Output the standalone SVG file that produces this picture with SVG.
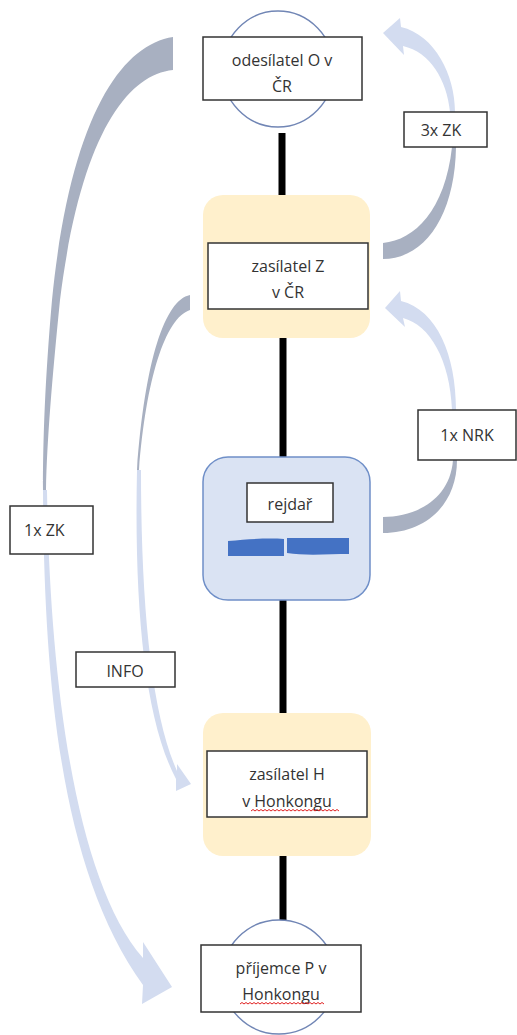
<svg xmlns="http://www.w3.org/2000/svg" width="517" height="1035" viewBox="0 0 517 1035">
<style>
.t{font-family:"Open Sans","Liberation Sans",sans-serif;font-size:16px;fill:#333;text-anchor:middle}
.box{fill:#fff;stroke:#333;stroke-width:1.5}
.dark{fill:#a8b0c1}
.light{fill:#d3dcf0}
.link{stroke:#000;stroke-width:7}
.sq{fill:none;stroke:#e02020;stroke-width:1}
</style>
<rect width="517" height="1035" fill="#fff"/>
<g id="arrows">
  <path class="dark" d="M173,37 C120,45 70,120 52,300 C45,380 43,440 43,490 L46,490 C47,440 52,380 60,300 C80,140 125,75 173,70 Z"/>
  <path class="light" d="M43,490 C44,680 60,870 143,985 L142,1004 L172,987 L143,942 L143,958 C75,880 50,680 47,490 Z"/>
  <path class="dark" d="M383,243 C415,240 445,210 452,147 L456,147 C455,215 425,259 383,259 Z"/>
  <path class="light" d="M450,112 C447,80 430,52 403,46 L404,55 L383,33 L400,18 L401,27 C435,35 455,75 455,112 Z"/>
  <path class="dark" d="M383,517 C415,517 450,500 453,460 L457,460 C457,505 425,533 383,533 Z"/>
  <path class="light" d="M452,410 C450,360 430,325 403,318 L405,327 L385,308 L400,291 L401,301 C437,310 456,355 456,410 Z"/>
  <path class="dark" d="M190,295 C165,300 145,360 137,470 L139,470 C146,380 165,318 190,310 Z"/>
  <path class="light" d="M137,470 C134,610 145,720 176,779 L176,791 L191,784 L177,764 L177,771 C152,715 141,610 141,470 Z"/>
</g>
<g id="connectors">
  <line class="link" x1="282" y1="133" x2="282" y2="196"/>
  <line class="link" x1="283" y1="338" x2="283" y2="457"/>
  <line class="link" x1="283" y1="600" x2="283" y2="713"/>
  <line class="link" x1="283" y1="856" x2="283" y2="921"/>
</g>
<g id="node-O">
  <ellipse cx="278" cy="69" rx="56" ry="58" fill="#fff" stroke="#7186b5" stroke-width="1.4"/>
  <rect class="box" x="203" y="37" width="159" height="63"/>
  <text class="t" x="282" y="66">odesílatel O v</text>
  <text class="t" x="282" y="92">ČR</text>
</g>
<g id="node-Z">
  <rect x="203" y="195" width="167" height="143" rx="20" fill="#fff0cc"/>
  <rect class="box" x="208" y="243" width="160" height="66"/>
  <text class="t" x="288" y="272">zasílatel Z</text>
  <text class="t" x="288" y="298">v ČR</text>
</g>
<g id="node-rejdar">
  <rect x="203" y="457" width="167" height="143" rx="25" fill="#dae3f3" stroke="#6f8fc8" stroke-width="1.5"/>
  <rect class="box" x="247" y="483" width="86" height="39"/>
  <text class="t" x="290" y="510">rejdař</text>
  <path d="M228,541 C250,539 268,538 284,539 L284,556 L228,556 Z" fill="#4472c4"/>
  <path d="M287,538 L349,538 L349,554 C330,554 305,556 287,553 Z" fill="#4472c4"/>
</g>
<g id="node-H">
  <rect x="203" y="713" width="168" height="143" rx="20" fill="#fff0cc"/>
  <rect class="box" x="207" y="751" width="160" height="66"/>
  <text class="t" x="287" y="780">zasílatel H</text>
  <text class="t" x="287" y="807">v Honkongu</text>
  <path class="sq" d="M251,811 l2,-1.5 2,1.5 2,-1.5 2,1.5 2,-1.5 2,1.5 2,-1.5 2,1.5 2,-1.5 2,1.5 2,-1.5 2,1.5 2,-1.5 2,1.5 2,-1.5 2,1.5 2,-1.5 2,1.5 2,-1.5 2,1.5 2,-1.5 2,1.5 2,-1.5 2,1.5 2,-1.5 2,1.5 2,-1.5 2,1.5 2,-1.5 2,1.5 2,-1.5 2,1.5 2,-1.5 2,1.5 2,-1.5 2,1.5 2,-1.5 2,1.5 2,-1.5 2,1.5 2,-1.5 2,1.5 2,-1.5 2,1.5"/>
</g>
<g id="node-P">
  <circle cx="279" cy="977" r="57" fill="#fff" stroke="#7186b5" stroke-width="1.4"/>
  <rect class="box" x="201" y="945" width="160" height="67"/>
  <text class="t" x="281" y="974">příjemce P v</text>
  <text class="t" x="281" y="1000">Honkongu</text>
  <path class="sq" d="M240,1004 l2,-1.5 2,1.5 2,-1.5 2,1.5 2,-1.5 2,1.5 2,-1.5 2,1.5 2,-1.5 2,1.5 2,-1.5 2,1.5 2,-1.5 2,1.5 2,-1.5 2,1.5 2,-1.5 2,1.5 2,-1.5 2,1.5 2,-1.5 2,1.5 2,-1.5 2,1.5 2,-1.5 2,1.5 2,-1.5 2,1.5 2,-1.5 2,1.5 2,-1.5 2,1.5 2,-1.5 2,1.5 2,-1.5 2,1.5 2,-1.5 2,1.5 2,-1.5 2,1.5 2,-1.5 2,1.5"/>
</g>
<g id="label-3xZK">
  <rect class="box" x="404" y="112" width="83" height="35"/>
  <text class="t" x="441" y="136">3x ZK</text>
</g>
<g id="label-1xNRK">
  <rect class="box" x="418" y="410" width="98" height="50"/>
  <text class="t" x="467" y="441">1x NRK</text>
</g>
<g id="label-1xZK">
  <rect class="box" x="10" y="506" width="83" height="48"/>
  <text class="t" x="24" y="536" style="text-anchor:start">1x ZK</text>
</g>
<g id="label-INFO">
  <rect class="box" x="76" y="652" width="99" height="35"/>
  <text class="t" x="125" y="677">INFO</text>
</g>
</svg>
